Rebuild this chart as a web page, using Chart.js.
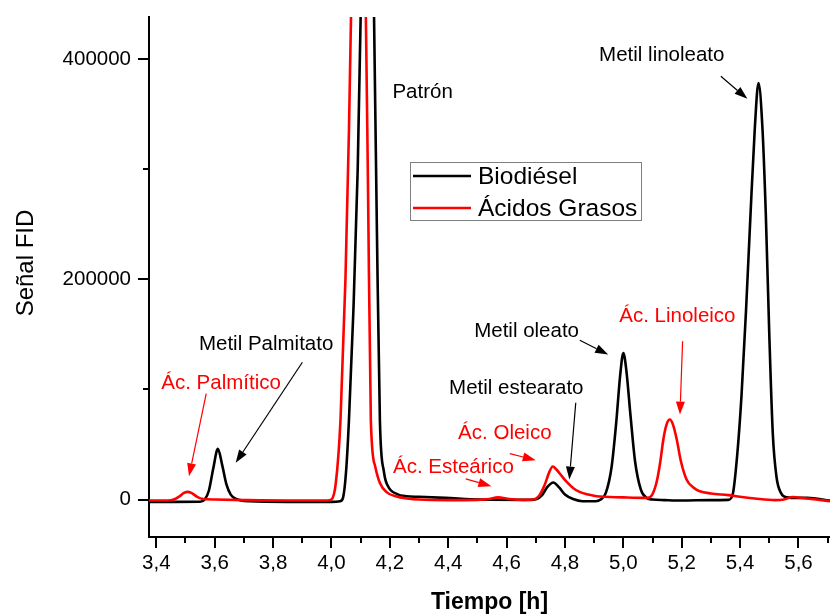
<!DOCTYPE html>
<html>
<head>
<meta charset="utf-8">
<script src="https://cdn.jsdelivr.net/npm/chart.js@4.4.1/dist/chart.umd.min.js"></script>
<style>
  html, body { margin: 0; padding: 0; background: #fff; }
</style>
</head>
<body>
<canvas id="myChart" width="830" height="615"></canvas>
<script>
// chromatogram data (time in h, FID signal)
const timeBio = [3.375, 3.45, 3.55, 3.566, 3.58, 3.595, 3.611, 3.626, 3.64, 3.655, 3.674, 3.72, 3.85, 4.00, 4.03,
  4.04, 4.05, 4.06, 4.075, 4.09, 4.10, 4.112, 4.123, 4.134, 4.146, 4.156, 4.166, 4.18, 4.194, 4.225, 4.257, 4.30,
  4.39, 4.51, 4.68, 4.703, 4.72, 4.74, 4.76, 4.78, 4.80, 4.828, 4.86, 4.905, 4.922, 4.94, 4.96, 4.975, 4.99, 5.00,
  5.01, 5.025, 5.04, 5.06, 5.08, 5.10, 5.14, 5.20, 5.30, 5.36, 5.375, 5.39, 5.405, 5.42, 5.435, 5.45, 5.463, 5.476,
  5.488, 5.50, 5.512, 5.525, 5.54, 5.56, 5.60, 5.63, 5.708];
const signalBio = [-2100, -2100, -2000, 0, 8000, 28000, 46000, 31000, 14000, 4500, 500, -1500, -2100, -2100, -1500,
  2000, 25000, 72000, 170000, 300000, 437000, 640000, 760000, 650000, 437000, 240000, 72000, 25000, 12000, 5000, 3000, 2500,
  1500, 0, -300, 500, 3500, 11500, 15500, 11000, 4500, 500, -1500, -1500, 0, 6000, 30000, 68000, 115000, 133000,
  118000, 75000, 35000, 9000, 1500, 0, -500, -900, -500, -300, 5000, 40000, 95000, 170000, 255000, 335000, 378000, 340000,
  260000, 150000, 60000, 20000, 6000, 2000, 1500, 1500, -900];

const timeAcid = [3.375, 3.44, 3.46, 3.48, 3.495, 3.508, 3.52, 3.54, 3.56, 3.60, 3.70, 3.85, 3.985, 4.00, 4.015,
  4.031, 4.048, 4.06, 4.067, 4.08, 4.092, 4.104, 4.118, 4.125, 4.135, 4.15, 4.166, 4.19, 4.223, 4.26, 4.30, 4.40,
  4.50, 4.54, 4.57, 4.61, 4.66, 4.69, 4.71, 4.73, 4.745, 4.758, 4.77, 4.79, 4.806, 4.83, 4.85, 4.88, 4.908, 5.00,
  5.08, 5.10, 5.115, 5.127, 5.137, 5.148, 5.159, 5.17, 5.183, 5.197, 5.217, 5.24, 5.262, 5.30, 5.36, 5.40, 5.45,
  5.52, 5.55, 5.58, 5.62, 5.66, 5.708];
const signalAcid = [-900, -900, 0, 3000, 6000, 7000, 6000, 2500, 500, 0, -500, -900, -900, 0, 15000,
  72000, 200000, 335000, 437000, 660000, 770000, 660000, 437000, 290000, 72000, 30000, 15000, 6500, 2700, 1000, 0, -500,
  -300, 500, 2000, 500, -300, 0, 3000, 13000, 24000, 30000, 27500, 21000, 16000, 10000, 7000, 4500, 3000, 2000,
  1500, 5000, 17000, 35000, 54500, 68000, 72600, 68000, 54500, 35000, 18000, 11000, 7500, 5500, 4000, 2500, 1000,
  -500, 0, 2300, 1200, 0, -1500];

const xMajorTicks = [3.4, 3.6, 3.8, 4.0, 4.2, 4.4, 4.6, 4.8, 5.0, 5.2, 5.4, 5.6];
const xTickLabels = ['3,4', '3,6', '3,8', '4,0', '4,2', '4,4', '4,6', '4,8', '5,0', '5,2', '5,4', '5,6'];
const xMinorTicks = [3.5, 3.7, 3.9, 4.1, 4.3, 4.5, 4.7, 4.9, 5.1, 5.3, 5.5, 5.7];
const yMajorTicks = [0, 200000, 400000];
const yTickLabels = ['0', '200000', '400000'];
const yMinorTicks = [100000, 300000];

// peak labels: text anchored at (x, y), optional arrow from -> to (data units)
const peakLabels = [
  { text: 'Patrón', x: 4.209, y: 369700, color: '#000000' },
  { text: 'Metil linoleato', x: 4.917, y: 403000, color: '#000000', from: [5.334, 384200], to: [5.425, 363700] },
  { text: 'Metil Palmitato', x: 3.546, y: 140700, color: '#000000', from: [3.9005, 124600], to: [3.672, 33300] },
  { text: 'Ác. Palmítico', x: 3.417, y: 105900, color: '#ff0000', from: [3.571, 96200], to: [3.512, 21100] },
  { text: 'Metil oleato', x: 4.489, y: 152700, color: '#000000', from: [4.851, 144600], to: [4.948, 131600] },
  { text: 'Metil estearato', x: 4.403, y: 100500, color: '#000000', from: [4.837, 87800], to: [4.815, 18200] },
  { text: 'Ác. Linoleico', x: 4.986, y: 166400, color: '#ff0000', from: [5.203, 143700], to: [5.194, 77100] },
  { text: 'Ác. Oleico', x: 4.434, y: 60500, color: '#ff0000', from: [4.611, 41750], to: [4.700, 35700] },
  { text: 'Ác. Esteárico', x: 4.211, y: 28800, color: '#ff0000', from: [4.460, 18800], to: [4.548, 12100] }
];

const FONT = "'Liberation Sans', Arial, sans-serif";

function toPoints(xs, ys) {
  return xs.map(function (t, i) { return { x: t, y: ys[i] }; });
}

function drawArrow(ctx, x1, y1, x2, y2, color) {
  const a = Math.atan2(y2 - y1, x2 - x1);
  const head = 13, half = 4.5;
  const bx = x2 - head * Math.cos(a), by = y2 - head * Math.sin(a);
  ctx.strokeStyle = color;
  ctx.fillStyle = color;
  ctx.lineWidth = 1.2;
  ctx.beginPath();
  ctx.moveTo(x1, y1);
  ctx.lineTo(bx, by);
  ctx.stroke();
  ctx.beginPath();
  ctx.moveTo(x2, y2);
  ctx.lineTo(bx + half * Math.sin(a), by - half * Math.cos(a));
  ctx.lineTo(bx - half * Math.sin(a), by + half * Math.cos(a));
  ctx.closePath();
  ctx.fill();
}

// tick marks (long majors, short minors), pointing outwards
const tickMarks = {
  id: 'tickMarks',
  afterDraw(chart) {
    const { ctx, chartArea, scales: { x, y } } = chart;
    ctx.save();
    ctx.strokeStyle = '#000';
    ctx.lineWidth = 2;
    ctx.beginPath();
    xMajorTicks.forEach(function (v) {
      const px = Math.round(x.getPixelForValue(v));
      ctx.moveTo(px, chartArea.bottom); ctx.lineTo(px, chartArea.bottom + 11);
    });
    xMinorTicks.forEach(function (v) {
      const px = Math.round(x.getPixelForValue(v));
      ctx.moveTo(px, chartArea.bottom); ctx.lineTo(px, chartArea.bottom + 6);
    });
    yMajorTicks.forEach(function (v) {
      const py = Math.round(y.getPixelForValue(v));
      ctx.moveTo(chartArea.left, py); ctx.lineTo(chartArea.left - 11, py);
    });
    yMinorTicks.forEach(function (v) {
      const py = Math.round(y.getPixelForValue(v));
      ctx.moveTo(chartArea.left, py); ctx.lineTo(chartArea.left - 6, py);
    });
    ctx.stroke();
    ctx.restore();
  }
};

// peak names, arrows, legend box and y title
const labelsPlugin = {
  id: 'labelsPlugin',
  afterDraw(chart) {
    const { ctx, scales: { x, y } } = chart;
    ctx.save();
    ctx.font = '20.5px ' + FONT;
    ctx.textAlign = 'left';
    ctx.textBaseline = 'middle';
    peakLabels.forEach(function (p) {
      ctx.fillStyle = p.color;
      ctx.fillText(p.text, x.getPixelForValue(p.x), y.getPixelForValue(p.y));
      if (p.from) {
        drawArrow(ctx,
          x.getPixelForValue(p.from[0]), y.getPixelForValue(p.from[1]),
          x.getPixelForValue(p.to[0]), y.getPixelForValue(p.to[1]), p.color);
      }
    });

    // legend
    ctx.strokeStyle = '#7f7f7f';
    ctx.lineWidth = 1;
    ctx.strokeRect(410.5, 162.5, 231, 58);
    ctx.font = '24.5px ' + FONT;
    chart.data.datasets.forEach(function (ds, i) {
      const ly = 176 + i * 32;
      ctx.strokeStyle = ds.borderColor;
      ctx.lineWidth = 2.6;
      ctx.beginPath();
      ctx.moveTo(413, ly); ctx.lineTo(471, ly);
      ctx.stroke();
      ctx.fillStyle = '#000';
      ctx.fillText(ds.label, 478, ly + 1);
    });

    // y title
    ctx.translate(26, 263);
    ctx.rotate(-Math.PI / 2);
    ctx.textAlign = 'center';
    ctx.font = '24px ' + FONT;
    ctx.fillStyle = '#000';
    ctx.fillText('Señal FID', 0, 0);
    ctx.restore();
  }
};

const data = {
  datasets: [{
    label: 'Biodiésel',
    data: toPoints(timeBio, signalBio),
    borderColor: '#000000',
    borderWidth: 2.6,
    pointRadius: 0,
    cubicInterpolationMode: 'monotone',
    order: 2
  }, {
    label: 'Ácidos Grasos',
    data: toPoints(timeAcid, signalAcid),
    borderColor: '#ff0000',
    borderWidth: 2.6,
    pointRadius: 0,
    cubicInterpolationMode: 'monotone',
    order: 1
  }]
};

const config = {
  type: 'line',
  data: data,
  plugins: [tickMarks, labelsPlugin],
  options: {
    responsive: false,
    animation: false,
    events: [],
    layout: { padding: { top: 17, right: 0, left: 0, bottom: 0 } },
    plugins: {
      legend: { display: false },
      tooltip: { enabled: false }
    },
    scales: {
      x: {
        type: 'linear',
        min: 3.375,
        max: 5.708,
        afterBuildTicks: function (s) { s.ticks = xMajorTicks.map(function (v) { return { value: v }; }); },
        afterFit: function (s) { s.height = 78; s.paddingLeft = 0; s.paddingRight = 0; },
        grid: { display: false, drawTicks: false },
        border: { display: true, color: '#000', width: 2 },
        ticks: {
          autoSkip: false,
          maxRotation: 0,
          padding: 14,
          color: '#000',
          font: { family: FONT, size: 20.5 },
          callback: function (v, i) { return xTickLabels[i]; }
        },
        title: {
          display: true,
          text: 'Tiempo [h]',
          color: '#000',
          font: { family: "'Liberation Sans Narrow', 'Liberation Sans', Arial, sans-serif", size: 23, weight: 'bold', lineHeight: 1 },
          padding: { top: 0, bottom: 1 }
        }
      },
      y: {
        type: 'linear',
        min: -34000,
        max: 438000,
        afterBuildTicks: function (s) { s.ticks = yMajorTicks.map(function (v) { return { value: v }; }); },
        afterFit: function (s) { s.width = 149; s.paddingTop = 0; s.paddingBottom = 0; },
        grid: { display: false, drawTicks: false },
        border: { display: true, color: '#000', width: 2 },
        ticks: {
          padding: 18,
          color: '#000',
          font: { family: FONT, size: 20.5 },
          callback: function (v, i) { return yTickLabels[i]; }
        }
      }
    }
  }
};

const myChart = new Chart(document.getElementById('myChart'), config);
</script>
</body>
</html>
